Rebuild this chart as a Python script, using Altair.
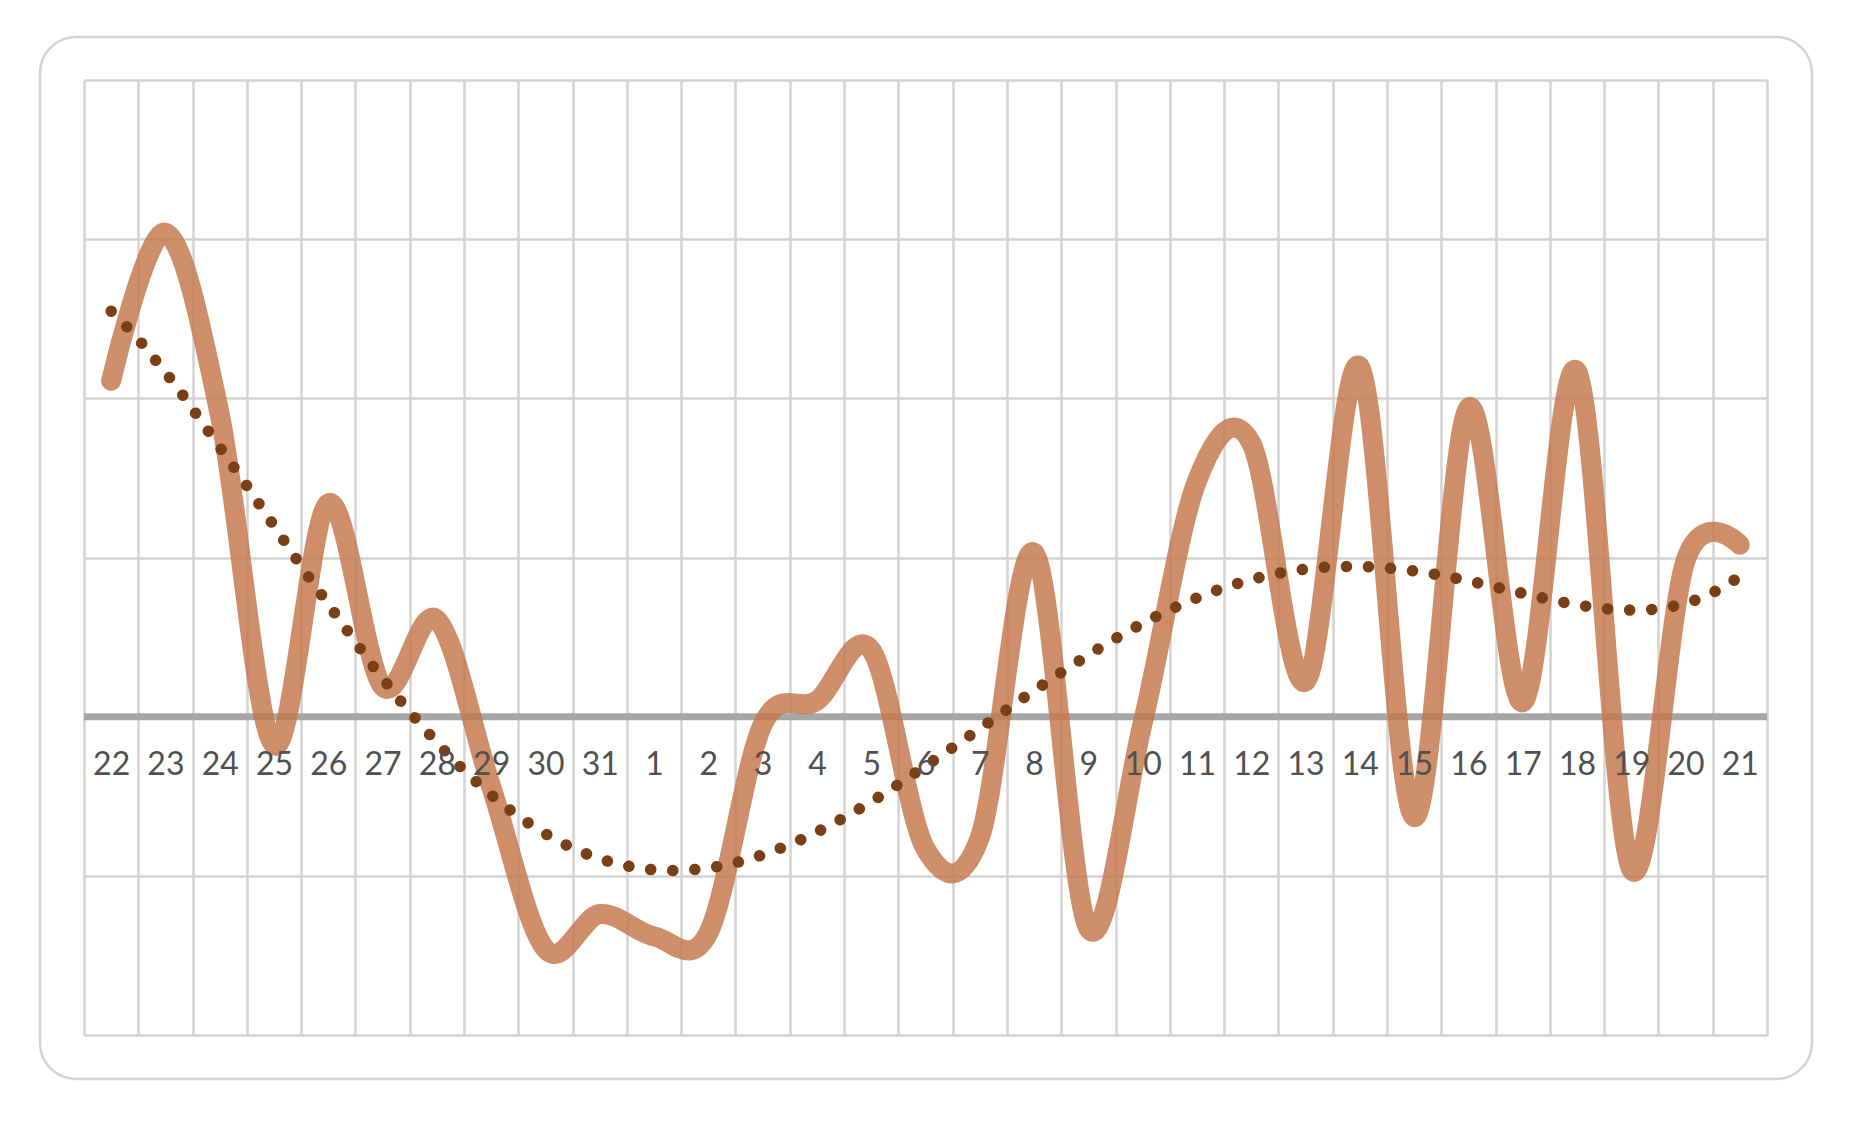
import json
import altair as alt
import pandas as pd

# ---- data ----
days = ["22", "23", "24", "25", "26", "27", "28", "29", "30", "31",
        "1", "2", "3", "4", "5", "6", "7", "8", "9", "10",
        "11", "12", "13", "14", "15", "16", "17", "18", "19", "20", "21"]
values = [21.1, 30.4, 19.0, -1.8, 13.4, 1.9, 6.1, -4.4, -14.6, -12.4,
          -13.8, -13.6, -0.5, 1.0, 4.2, -8.3, -7.6, 10.3, -13.3, -0.4,
          14.8, 17.2, 2.2, 22.0, -6.3, 19.4, 0.9, 21.7, -9.6, 9.8, 10.8]
y_ticks = [-20, -10, 0, 10, 20, 30, 40]

df = pd.DataFrame({"idx": list(range(len(days))), "day": days, "value": values})
zero_df = pd.DataFrame({"zero": [0]})
frame_df = pd.DataFrame({"f": [0]})

W, H = 1683, 955
GRID = "#D3D3D3"

xscale = alt.Scale(domain=[-0.5, len(days) - 0.5], nice=False, zero=False)
yscale = alt.Scale(domain=[y_ticks[0], y_ticks[-1]], nice=False, zero=False)

grid_axis = alt.Axis(values=[i - 0.5 for i in range(len(days) + 1)], grid=True,
                     gridColor=GRID, gridWidth=2.5, labels=False, ticks=False,
                     domain=False, orient="bottom", title=None)
label_expr = json.dumps(days) + "[datum.value]"
label_axis = alt.Axis(values=list(range(len(days))), labelExpr=label_expr, grid=False,
                      ticks=False, tickSize=0, domain=False, orient="bottom",
                      offset=-318, labelPadding=32, labelFont="Lato", labelFontSize=32,
                      labelColor="#505050", title=None, zindex=1, labelOverlap=False,
                      labelFlush=False, labelBound=False)
y_axis = alt.Axis(values=y_ticks, grid=True, gridColor=GRID, gridWidth=2.5, labels=False,
                  ticks=False, domain=False, title=None, orient="left")

frame = alt.Chart(frame_df).mark_rect(
    fillOpacity=0, stroke="#D3D3D3", strokeWidth=2.5, cornerRadius=36
).encode(x=alt.value(-44), x2=alt.value(W + 45), y=alt.value(-43), y2=alt.value(H + 44))

zero = alt.Chart(zero_df).mark_rule(color="#A6A6A6", strokeWidth=7).encode(
    y=alt.Y("zero:Q", scale=yscale, axis=y_axis)
)

main = alt.Chart(df).mark_line(
    color="#C4774A", opacity=0.83, strokeWidth=20, strokeCap="round",
    strokeJoin="round", interpolate="cardinal"
).encode(
    x=alt.X("idx:Q", scale=xscale, axis=grid_axis),
    y=alt.Y("value:Q", scale=yscale, axis=y_axis),
)

trend = alt.Chart(df).transform_regression(
    "idx", "value", method="poly", order=6
).mark_line(
    color="#7B3F16", strokeWidth=11.5, strokeDash=[0.1, 22], strokeCap="round"
).encode(
    x=alt.X("idx:Q", scale=xscale, axis=label_axis),
    y=alt.Y("value:Q", scale=yscale, axis=y_axis),
)

chart = alt.layer(frame, zero, main, trend).resolve_axis(x="independent").properties(
    width=W, height=H,
    autosize=alt.AutoSizeParams(type="none"),
    padding={"left": 84, "top": 80, "right": 104, "bottom": 89},
).configure_view(stroke="transparent")

chart.save("out.html", embed_options={"renderer": "svg", "actions": False})
